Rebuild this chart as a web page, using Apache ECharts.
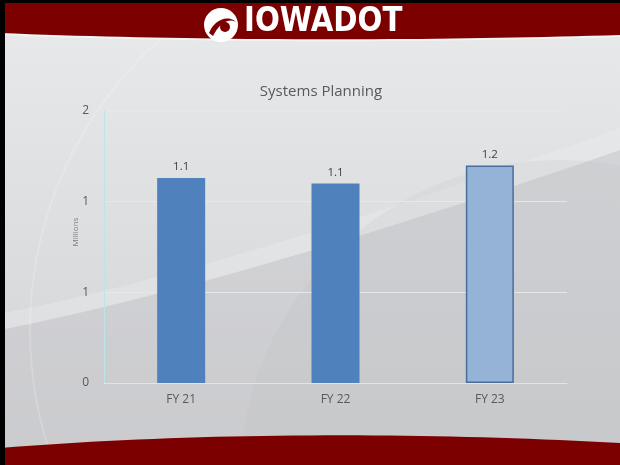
<!DOCTYPE html>
<html>
<head>
<meta charset="utf-8">
<script src="https://cdn.jsdelivr.net/npm/echarts@6/dist/echarts.min.js"></script>
<style>
  html, body { margin: 0; padding: 0; }
  #chart { width: 620px; height: 465px; }
</style>
</head>
<body>
<div id="chart"></div>
<script>
// data (values in millions)
const categories = ['FY 21', 'FY 22', 'FY 23'];
const amounts = [1.13, 1.10, 1.20];
const barColors = ['#4f81bd', '#4f81bd', '#95b3d7'];
const yTicks = [0, 0.5, 1, 1.5];

const chart = echarts.init(document.getElementById('chart'), null, { renderer: 'canvas' });

// sample a cubic bezier into points (decoration shapes only)
function curve(p0, p1, p2, p3, n) {
  const pts = [];
  for (let i = 0; i <= n; i++) {
    const t = i / n, u = 1 - t;
    pts.push([
      u * u * u * p0[0] + 3 * u * u * t * p1[0] + 3 * u * t * t * p2[0] + t * t * t * p3[0],
      u * u * u * p0[1] + 3 * u * u * t * p1[1] + 3 * u * t * t * p2[1] + t * t * t * p3[1]
    ]);
  }
  return pts;
}

const swooshLow = curve([0, 330], [150, 300], [330, 250], [620, 150], 40);
const swooshHigh = curve([0, 314], [160, 282], [340, 228], [620, 128], 40);
const headerEdge = curve([620, 35], [420, 41], [200, 41], [0, 33], 40);
const footerEdge = curve([0, 448], [200, 432], [420, 432], [620, 443], 40);

const bgGraphics = [
  // darker lower swoosh region
  {
    type: 'polygon', z: -10, silent: true,
    shape: { points: swooshLow.concat([[620, 465], [0, 465]]) },
    style: { fill: 'rgba(195,196,199,0.45)' }
  },
  // light swoosh band
  {
    type: 'polygon', z: -9, silent: true,
    shape: { points: swooshHigh.concat(swooshLow.slice().reverse()) },
    style: { fill: 'rgba(236,237,238,0.35)' }
  },
  // soft circles
  {
    type: 'circle', z: -9, silent: true,
    shape: { cx: 420, cy: 330, r: 390 },
    style: { fill: 'none', stroke: 'rgba(255,255,255,0.18)', lineWidth: 2 }
  },
  {
    type: 'circle', z: -9, silent: true,
    shape: { cx: 560, cy: 480, r: 320 },
    style: { fill: 'rgba(180,181,184,0.14)' }
  },
  // header band
  {
    type: 'polyline', z: 9, silent: true,
    shape: { points: headerEdge.map(p => [p[0], p[1] + 1]) },
    style: { stroke: 'rgba(255,255,255,0.5)', lineWidth: 2 }
  },
  {
    type: 'polygon', z: 10, silent: true,
    shape: { points: [[0, 0], [620, 0]].concat(headerEdge) },
    style: { fill: '#7d0000' }
  },
  // footer band
  {
    type: 'polygon', z: 10, silent: true,
    shape: { points: footerEdge.concat([[620, 465], [0, 465]]) },
    style: { fill: '#7d0000' }
  },
  // black frame edges
  { type: 'rect', z: 12, silent: true, shape: { x: 0, y: 0, width: 620, height: 3 }, style: { fill: '#000' } },
  { type: 'rect', z: 12, silent: true, shape: { x: 0, y: 0, width: 5, height: 465 }, style: { fill: '#000' } },
  // logo
  {
    type: 'circle', z: 11, silent: true,
    shape: { cx: 221, cy: 25, r: 17 },
    style: { fill: '#ffffff' }
  },
  {
    type: 'polygon', z: 12, silent: true,
    shape: { points: curve([209, 33], [214, 20], [228, 14], [236, 22], 12).concat(curve([236, 22], [230, 18], [220, 22], [213, 36], 12)) },
    style: { fill: '#7d0000' }
  },
  {
    type: 'circle', z: 12, silent: true,
    shape: { cx: 225, cy: 27, r: 5 },
    style: { fill: '#7d0000' }
  },
  {
    type: 'text', z: 11, silent: true,
    x: 244, y: 5,
    scaleX: 0.86,
    style: {
      text: 'IOWADOT', fill: '#ffffff',
      font: 'bold 34px "DejaVu Sans", sans-serif'
    }
  },
  // axis title
  {
    type: 'text', z: 5, silent: true,
    x: 76, y: 232, rotation: Math.PI / 2,
    style: {
      text: 'Millions', fill: '#7f7f7f', align: 'center', verticalAlign: 'middle',
      font: '8px "Open Sans", "Liberation Sans", sans-serif'
    }
  }
];

chart.setOption({
  backgroundColor: {
    type: 'linear', x: 0, y: 0, x2: 0, y2: 1,
    colorStops: [
      { offset: 0, color: '#e9eaeb' },
      { offset: 0.5, color: '#dddee0' },
      { offset: 1, color: '#d0d1d3' }
    ]
  },
  animation: false,
  textStyle: { fontFamily: '"Open Sans", "Liberation Sans", sans-serif' },
  title: {
    text: 'Systems Planning',
    left: 316, top: 79, textAlign: 'center',
    textStyle: { fontSize: 15, fontWeight: 'normal', color: '#595959' }
  },
  graphic: bgGraphics,
  grid: { left: 104, right: 53, top: 111, bottom: 82 },
  xAxis: {
    type: 'category',
    data: categories,
    axisLine: { lineStyle: { color: '#e4e4e4' } },
    axisTick: { show: false },
    axisLabel: { color: '#595959', fontSize: 12, margin: 11 }
  },
  yAxis: {
    type: 'value',
    min: yTicks[0],
    max: yTicks[yTicks.length - 1],
    interval: 0.5,
    axisLine: { show: true, lineStyle: { color: '#bfe3ea' } },
    axisTick: { show: false },
    axisLabel: {
      color: '#595959', fontSize: 12, margin: 15,
      formatter: v => String(Math.round(v))
    },
    splitLine: { lineStyle: { color: '#e6e7e8' } }
  },
  series: [{
    type: 'bar',
    barWidth: 48,
    data: amounts.map((v, i) => ({
      value: v,
      itemStyle: {
        color: barColors[i],
        borderColor: i === 2 ? '#4a6e9c' : '#4f81bd',
        borderWidth: i === 2 ? 1.5 : 0
      }
    })),
    label: {
      show: true, position: 'top', distance: 5,
      color: '#404040', fontSize: 11.5,
      formatter: p => p.value.toFixed(1)
    }
  }]
});
</script>
</body>
</html>
